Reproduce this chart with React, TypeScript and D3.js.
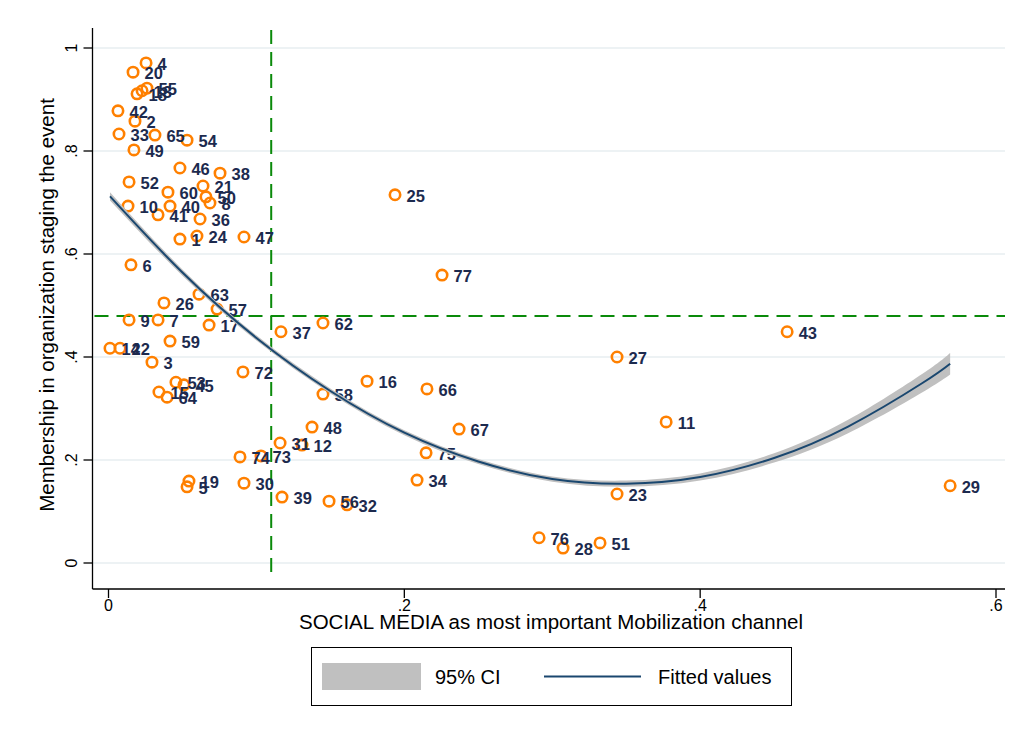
import React from "react";
import * as d3 from "d3";

// Event identifiers and their two measures
const eventIds = [
  "4", "20", "18", "13", "55", "42", "2", "33", "65", "54",
  "49", "46", "38", "52", "60", "21", "50", "8", "10", "40",
  "41", "36", "1", "24", "47", "6", "25", "77", "63", "26",
  "57", "9", "7", "17", "37", "62", "43", "27", "59", "14",
  "22", "3", "72", "53", "45", "15", "64", "58", "16", "66",
  "48", "67", "11", "31", "12", "74", "73", "75", "19", "5",
  "30", "34", "39", "56", "32", "23", "29", "76", "28", "51",
];
const socialMedia = [
  0.0254, 0.0166, 0.0193, 0.0227, 0.026, 0.0064, 0.0179, 0.0071, 0.0314, 0.0531,
  0.0172, 0.0483, 0.0754, 0.0139, 0.0402, 0.0639, 0.0659, 0.0686, 0.0132, 0.0416,
  0.0335, 0.0619, 0.0483, 0.0598, 0.0916, 0.0152, 0.1937, 0.2255, 0.0612, 0.0375,
  0.0734, 0.0139, 0.0335, 0.068, 0.1166, 0.145, 0.4588, 0.3438, 0.0416, 0.001,
  0.0078, 0.0294, 0.0909, 0.0456, 0.051, 0.0341, 0.0396, 0.145, 0.1748, 0.2153,
  0.1376, 0.237, 0.377, 0.116, 0.1308, 0.0889, 0.1031, 0.2147, 0.0544, 0.0531,
  0.0916, 0.2086, 0.1173, 0.1491, 0.1613, 0.3438, 0.569, 0.2911, 0.3073, 0.3323,
];
const membership = [
  0.971, 0.953, 0.911, 0.917, 0.922, 0.878, 0.858, 0.833, 0.831, 0.821,
  0.802, 0.767, 0.757, 0.74, 0.72, 0.732, 0.711, 0.699, 0.693, 0.693,
  0.676, 0.668, 0.629, 0.635, 0.633, 0.579, 0.715, 0.559, 0.522, 0.505,
  0.493, 0.472, 0.472, 0.462, 0.449, 0.466, 0.449, 0.4, 0.431, 0.417,
  0.417, 0.39, 0.371, 0.351, 0.346, 0.332, 0.322, 0.328, 0.353, 0.338,
  0.264, 0.26, 0.274, 0.233, 0.229, 0.206, 0.208, 0.214, 0.159, 0.148,
  0.155, 0.161, 0.128, 0.12, 0.113, 0.134, 0.15, 0.049, 0.029, 0.039,
];

// Quadratic fit with its 95% confidence band
const fitX = [0.001, 0.05, 0.1, 0.15, 0.2, 0.25, 0.3, 0.35, 0.4, 0.45, 0.5, 0.55, 0.569];
const fitY = [0.712, 0.564, 0.437, 0.334, 0.253, 0.197, 0.163, 0.154, 0.167, 0.204, 0.265, 0.349, 0.387];
const fitHalfCI = [0.008, 0.006, 0.005, 0.005, 0.005, 0.005, 0.005, 0.006, 0.007, 0.009, 0.013, 0.018, 0.021];

// Reference lines (sample means)
const meanSocialMedia = 0.11;
const meanMembership = 0.4796;

const xTicks = [0, 0.2, 0.4, 0.6];
const xTickLabels = ["0", ".2", ".4", ".6"];
const yTicks = [0, 0.2, 0.4, 0.6, 0.8, 1];
const yTickLabels = ["0", ".2", ".4", ".6", ".8", "1"];

const legendItems = ["95% CI", "Fitted values"];

const FONT = "'Liberation Sans', Arial, Helvetica, sans-serif";
const ORANGE = "#ff8000";
const NAVY_TEXT = "#1c2a4e";
const FIT_COLOR = "#1a476f";
const CI_COLOR = "#c0c0c0";
const REF_GREEN = "#0a8a0a";
const GRID = "#e7eef1";

export default function App() {
  const W = 1025;
  const H = 749;
  const plot = { left: 92.5, right: 1005, top: 28, bottom: 589 };

  const x = d3.scaleLinear().domain([0, 0.6]).range([108.5, 996]);
  const y = d3.scaleLinear().domain([0, 1]).range([563, 48]);

  const fitRows = fitX.map((v, i) => ({ x: v, y: fitY[i], h: fitHalfCI[i] }));
  const linePath = d3
    .line<{ x: number; y: number; h: number }>()
    .x((d) => x(d.x))
    .y((d) => y(d.y))
    .curve(d3.curveNatural)(fitRows) as string;
  const bandPath = d3
    .area<{ x: number; y: number; h: number }>()
    .x((d) => x(d.x))
    .y0((d) => y(d.y - d.h))
    .y1((d) => y(d.y + d.h))
    .curve(d3.curveNatural)(fitRows) as string;

  const points = eventIds.map((id, i) => ({ id, x: socialMedia[i], y: membership[i] }));

  return (
    <div style={{ position: "fixed", left: 0, top: 0 }}>
      <svg width={W} height={H} viewBox={`0 0 ${W} ${H}`} style={{ display: "block", background: "#fff" }}>
        <rect x={0} y={0} width={W} height={H} fill="#fff" />

        {/* horizontal grid */}
        {yTicks.map((t) => (
          <line key={`g${t}`} x1={plot.left} x2={plot.right} y1={y(t)} y2={y(t)} stroke={GRID} strokeWidth={1.6} />
        ))}

        {/* reference lines */}
        <line
          x1={x(meanSocialMedia)}
          x2={x(meanSocialMedia)}
          y1={plot.top + 2}
          y2={plot.bottom - 10}
          stroke={REF_GREEN}
          strokeWidth={2}
          strokeDasharray="14 8"
        />
        <line
          x1={plot.left + 2}
          x2={plot.right}
          y1={y(meanMembership)}
          y2={y(meanMembership)}
          stroke={REF_GREEN}
          strokeWidth={2}
          strokeDasharray="14 8"
        />

        {/* scatter with event labels */}
        {points.map((p) => (
          <circle key={`c${p.id}`} cx={x(p.x)} cy={y(p.y)} r={5.2} fill="none" stroke={ORANGE} strokeWidth={2.6} />
        ))}
        {points.map((p) => (
          <text
            key={`t${p.id}`}
            x={x(p.x) + 11.5}
            y={y(p.y) + 7}
            fontFamily={FONT}
            fontWeight="bold"
            fontSize={16.5}
            fill={NAVY_TEXT}
          >
            {p.id}
          </text>
        ))}

        {/* fitted quadratic and CI */}
        <path d={bandPath} fill={CI_COLOR} stroke="none" />
        <path d={linePath} fill="none" stroke={FIT_COLOR} strokeWidth={2} />

        {/* axes */}
        <line x1={plot.left} x2={plot.left} y1={plot.top} y2={plot.bottom} stroke="#000" strokeWidth={1.3} />
        <line x1={plot.left} x2={plot.right} y1={plot.bottom} y2={plot.bottom} stroke="#000" strokeWidth={1.3} />

        {yTicks.map((t, i) => (
          <g key={`y${t}`}>
            <line x1={plot.left - 9} x2={plot.left} y1={y(t)} y2={y(t)} stroke="#000" strokeWidth={1.3} />
            <text
              transform={`translate(${77},${y(t)}) rotate(-90)`}
              textAnchor="middle"
              fontFamily={FONT}
              fontSize={16}
              fill="#000"
            >
              {yTickLabels[i]}
            </text>
          </g>
        ))}

        {xTicks.map((t, i) => (
          <g key={`x${t}`}>
            <line x1={x(t)} x2={x(t)} y1={plot.bottom} y2={plot.bottom + 9} stroke="#000" strokeWidth={1.3} />
            <text x={x(t)} y={611} textAnchor="middle" fontFamily={FONT} fontSize={16} fill="#000">
              {xTickLabels[i]}
            </text>
          </g>
        ))}

        <text x={551} y={629} textAnchor="middle" fontFamily={FONT} fontSize={20.5} fill="#000">
          SOCIAL MEDIA as most important Mobilization channel
        </text>
        <text
          transform={`translate(${54},${305}) rotate(-90)`}
          textAnchor="middle"
          fontFamily={FONT}
          fontSize={20.5}
          fill="#000"
        >
          Membership in organization staging the event
        </text>

        {/* legend */}
        <rect x={311.5} y={647.5} width={480} height={58} fill="#fff" stroke="#000" strokeWidth={1} />
        <rect x={322} y={663} width={99} height={27} fill={CI_COLOR} />
        <text x={435} y={684} fontFamily={FONT} fontSize={20} fill="#000">
          {legendItems[0]}
        </text>
        <line x1={544} x2={641} y1={676.5} y2={676.5} stroke={FIT_COLOR} strokeWidth={2} />
        <text x={658} y={684} fontFamily={FONT} fontSize={20} fill="#000">
          {legendItems[1]}
        </text>
      </svg>
    </div>
  );
}
